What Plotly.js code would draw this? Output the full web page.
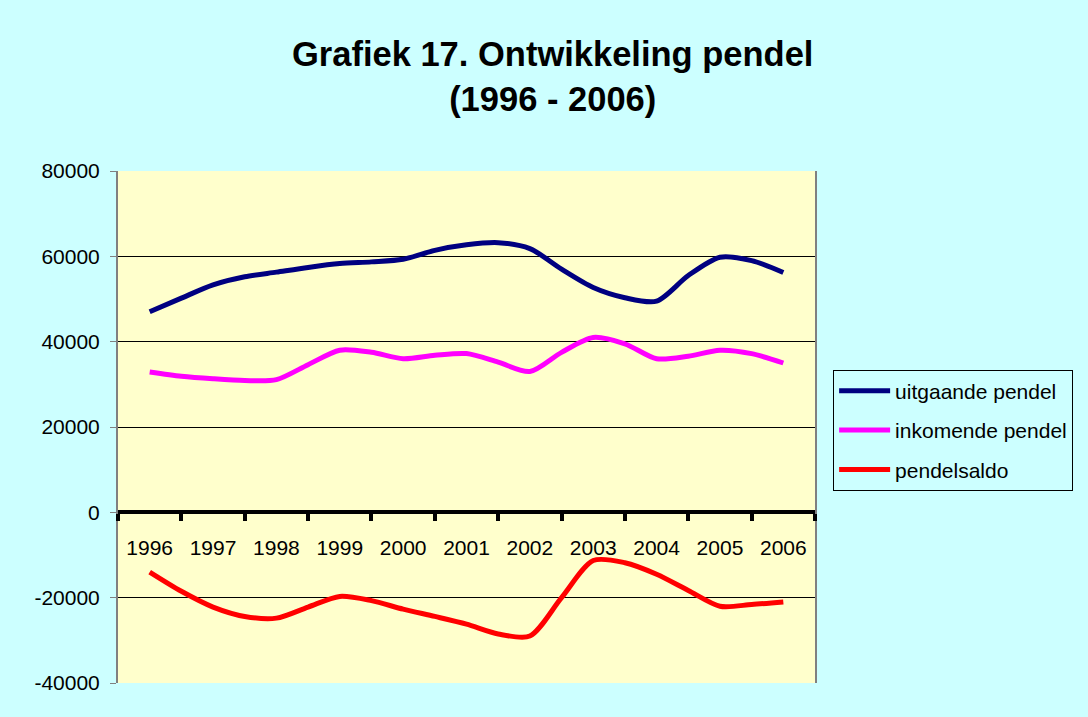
<!DOCTYPE html>
<html>
<head>
<meta charset="utf-8">
<script src="https://cdn.plot.ly/plotly-3.0.1.min.js"></script>
<style>
  html, body { margin: 0; padding: 0; background: #CCFFFF; }
  #chart { width: 1088px; height: 717px; }
</style>
</head>
<body>
<div id="chart"></div>
<script>
// Categories: years (labels) and half-year measurement points
const years = [1996, 1997, 1998, 1999, 2000, 2001, 2002, 2003, 2004, 2005, 2006];
const yearLabels = ['1996', '1997', '1998', '1999', '2000', '2001', '2002', '2003', '2004', '2005', '2006'];
const periods = [1996, 1996.5, 1997, 1997.5, 1998, 1998.5, 1999, 1999.5, 2000, 2000.5,
                 2001, 2001.5, 2002, 2002.5, 2003, 2003.5, 2004, 2004.5, 2005, 2005.5, 2006];

// Series values
const uitgaande = [47000, 50200, 53300, 55200, 56300, 57400, 58300, 58700, 59300, 61400,
                   62700, 63200, 61800, 57000, 52700, 50300, 49500, 55500, 59800, 59000, 56200];
const inkomende = [32900, 31900, 31300, 30900, 31100, 34600, 38000, 37500, 36000, 36800,
                   37200, 35200, 33000, 37500, 41000, 39500, 36000, 36600, 38000, 37200, 35000];
const pendelsaldo = [-14000, -18500, -22200, -24400, -24800, -22200, -19700, -20700, -22700, -24400,
                     -26200, -28500, -29000, -20000, -11300, -11800, -14500, -18300, -22000, -21600, -21000];

// Y-axis tick values and labels
const yTickVals = [-40000, -20000, 0, 20000, 40000, 60000, 80000];
const yTickLabels = ['-40000', '-20000', '0', '20000', '40000', '60000', '80000'];

const seriesNames = ['uitgaande pendel', 'inkomende pendel', 'pendelsaldo'];
const seriesColors = ['#000080', '#FF00FF', '#FF0000'];
const seriesValues = [uitgaande, inkomende, pendelsaldo];

const FONT = '"Liberation Sans", Arial, sans-serif';

const traces = seriesValues.map((vals, i) => ({
  type: 'scatter',
  mode: 'lines',
  name: seriesNames[i],
  x: periods,
  y: vals,
  legendgroup: 'g' + i,
  line: { color: seriesColors[i], width: 5, shape: 'spline', smoothing: 0.8 },
  hoverinfo: 'x+y'
}));

const boundaries = years.map(y => y - 0.5).concat([years[years.length - 1] + 0.5]);

const yMin = yTickVals[0], yMax = yTickVals[yTickVals.length - 1];

const layout = {
  width: 1088,
  height: 717,
  paper_bgcolor: '#CCFFFF',
  plot_bgcolor: '#FFFFCC',
  font: { family: FONT, color: '#000000', size: 21 },
  margin: { l: 118, r: 273, t: 171, b: 34, pad: 0 },
  title: {
    text: '<b>Grafiek 17. Ontwikkeling pendel<br>(1996 - 2006)</b>',
    font: { family: FONT, size: 34.5, color: '#000000' },
    x: 0.508, xanchor: 'center',
    y: 0.908, yanchor: 'top'
  },
  xaxis: {
    type: 'linear',
    range: [boundaries[0], boundaries[boundaries.length - 1]],
    anchor: 'free',
    position: (0 - yMin) / (yMax - yMin),
    tickmode: 'array',
    tickvals: years,
    ticktext: yearLabels,
    ticks: '',
    ticklabelstandoff: 15,
    tickfont: { family: FONT, size: 21, color: '#000000' },
    showgrid: false,
    zeroline: false,
    showline: true,
    linecolor: '#000000',
    linewidth: 4,
    minor: {
      tickmode: 'array',
      tickvals: boundaries,
      ticks: 'outside',
      ticklen: 7,
      tickwidth: 4,
      tickcolor: '#000000',
      showgrid: false
    },
    fixedrange: true
  },
  yaxis: {
    range: [yMin, yMax],
    tickmode: 'array',
    tickvals: yTickVals,
    ticktext: yTickLabels,
    ticks: 'outside',
    ticklen: 6,
    tickcolor: '#808080',
    tickwidth: 1,
    ticklabelstandoff: 6,
    tickfont: { family: FONT, size: 21, color: '#000000' },
    showgrid: true,
    gridcolor: '#000000',
    gridwidth: 1,
    zeroline: false,
    showline: true,
    mirror: true,
    linecolor: '#808080',
    linewidth: 2,
    fixedrange: true
  },
  showlegend: true,
  legend: {
    x: 1.026, xanchor: 'left',
    y: 0.612, yanchor: 'top',
    bgcolor: '#CCFFFF',
    bordercolor: '#000000',
    borderwidth: 1,
    font: { family: FONT, size: 21, color: '#000000' },
    tracegroupgap: 9,
    itemwidth: 51
  }
};

Plotly.newPlot('chart', traces, layout, { displayModeBar: false, staticPlot: true });
</script>
</body>
</html>
